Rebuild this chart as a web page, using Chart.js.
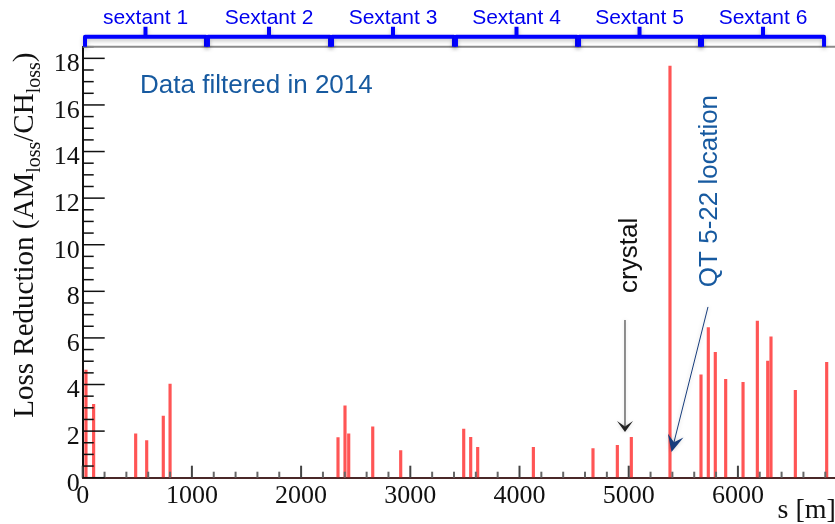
<!DOCTYPE html>
<html>
<head>
<meta charset="utf-8">
<script src="https://cdn.jsdelivr.net/npm/chart.js@4.4.1/dist/chart.umd.min.js"></script>
<style>
  html, body { margin: 0; padding: 0; background: #fff; overflow: hidden; }
  #wrap { width: 835px; height: 524px; overflow: hidden; }
  canvas { display: block; }
</style>
</head>
<body>
<div id="wrap"><canvas id="lossChart" width="842" height="524"></canvas></div>
<script>
// s [m] of every peak and its loss reduction
const positions = [30, 100, 485, 586, 738, 800, 2338, 2402, 2436, 2656, 2912, 3489, 3553, 3617, 4127,
                   4673, 4896, 5024, 5378, 5662, 5729, 5793, 5888, 6047, 6178, 6273, 6303, 6526, 6813];
const reduction = [4.62, 3.15, 1.88, 1.59, 2.65, 4.02, 1.72, 3.09, 1.88, 2.18, 1.16, 2.09, 1.73, 1.30, 1.30,
                   1.25, 1.39, 1.73, 17.67, 4.42, 6.44, 5.38, 4.22, 4.09, 6.72, 5.01, 6.05, 3.75, 4.95];

const xTicks = [0, 1000, 2000, 3000, 4000, 5000, 6000];
const yTicks = [0, 2, 4, 6, 8, 10, 12, 14, 16, 18];

const sextantEdges = [12, 1138, 2274, 3409, 4536, 5662, 6798];
const sextantNames = ["sextant 1", "Sextant 2", "Sextant 3", "Sextant 4", "Sextant 5", "Sextant 6"];

const xMax = 6912;
const yMax = 18.5;

// annotation anchors in data units (s, reduction)
const noteAt = [525, 16.5];
const crystalAt = [5076, 7.93];
const crystalArrow = [4966, 6.77, 4966, 1.96];
const qtAt = [5809, 8.18];
const qtArrow = [5726, 7.33, 5392, 1.1];

const SERIF = "'Liberation Serif', 'DejaVu Serif', serif";
const SANS = "'Liberation Sans', Arial, sans-serif";
const NOTE_BLUE = "#175aa0";

function drawArrow(ctx, x1, y1, x2, y2, color, len, half, notch) {
    const a = Math.atan2(y2 - y1, x2 - x1);
    const c = Math.cos(a), s = Math.sin(a);

    ctx.strokeStyle = color;
    ctx.lineWidth = 1;
    ctx.beginPath();
    ctx.moveTo(x1, y1);
    ctx.lineTo(x2 - c * len * notch, y2 - s * len * notch);
    ctx.stroke();

    const bx = x2 - c * len, by = y2 - s * len;
    ctx.fillStyle = color;
    ctx.beginPath();
    ctx.moveTo(x2, y2);
    ctx.lineTo(bx + s * half, by - c * half);
    ctx.lineTo(x2 - c * len * notch, y2 - s * len * notch);
    ctx.lineTo(bx - s * half, by + c * half);
    ctx.closePath();
    ctx.fill();
}

const decorations = {
    id: "decorations",

    afterDatasetsDraw(chart) {
        const ctx = chart.ctx;
        const xs = chart.scales.x, ys = chart.scales.y;
        const area = chart.chartArea;

        ctx.save();

        // x ticks, pointing into the frame
        for (let v = 0; v <= xMax; v += 200) {
            const px = xs.getPixelForValue(v);
            const major = v % 1000 === 0;
            ctx.strokeStyle = major ? "#444" : "#666";
            ctx.lineWidth = 2;
            ctx.beginPath();
            ctx.moveTo(px, area.bottom);
            ctx.lineTo(px, area.bottom - (major ? 12 : 6));
            ctx.stroke();
        }

        // y ticks
        for (let v = 0; v <= yMax; v += 0.5) {
            const py = ys.getPixelForValue(v);
            const major = v % 2 === 0;
            ctx.strokeStyle = "#111";
            ctx.lineWidth = 1.5;
            ctx.beginPath();
            ctx.moveTo(area.left, py);
            ctx.lineTo(area.left + (major ? 22 : 11), py);
            ctx.stroke();
        }

        ctx.restore();
    },

    afterDraw(chart) {
        const ctx = chart.ctx;
        const xs = chart.scales.x, ys = chart.scales.y;
        const area = chart.chartArea;

        ctx.save();

        // top frame
        ctx.strokeStyle = "#8a8a8a";
        ctx.lineWidth = 2;
        ctx.beginPath();
        ctx.moveTo(area.left, area.top);
        ctx.lineTo(area.right, area.top);
        ctx.stroke();

        // sextant brackets
        const barY = area.top - 10;
        ctx.save();
        ctx.strokeStyle = "#0000ff";
        ctx.lineWidth = 4;
        ctx.lineJoin = "round";
        ctx.shadowColor = "rgba(0,0,0,0.25)";
        ctx.shadowBlur = 4;
        ctx.shadowOffsetY = 2;
        for (let i = 0; i < sextantNames.length; i++) {
            const a = xs.getPixelForValue(sextantEdges[i]) + 1;
            const b = xs.getPixelForValue(sextantEdges[i + 1]) - 1;
            const mid = (a + b) / 2;
            ctx.beginPath();
            ctx.moveTo(a, area.top);
            ctx.lineTo(a, barY);
            ctx.lineTo(b, barY);
            ctx.lineTo(b, area.top);
            ctx.moveTo(mid, barY);
            ctx.lineTo(mid, barY - 10);
            ctx.stroke();
        }
        ctx.restore();

        ctx.fillStyle = "#0000ee";
        ctx.font = "21px " + SANS;
        ctx.textAlign = "center";
        ctx.textBaseline = "alphabetic";
        for (let i = 0; i < sextantNames.length; i++) {
            const mid = (xs.getPixelForValue(sextantEdges[i]) + xs.getPixelForValue(sextantEdges[i + 1])) / 2;
            ctx.fillText(sextantNames[i], mid, area.top - 23);
        }

        // note
        ctx.textAlign = "left";
        ctx.fillStyle = NOTE_BLUE;
        ctx.font = "26px " + SANS;
        ctx.fillText("Data filtered in 2014", xs.getPixelForValue(noteAt[0]), ys.getPixelForValue(noteAt[1]));

        // rotated labels
        ctx.save();
        ctx.translate(xs.getPixelForValue(crystalAt[0]), ys.getPixelForValue(crystalAt[1]));
        ctx.rotate(-Math.PI / 2);
        ctx.fillStyle = "#111";
        ctx.fillText("crystal", 0, 0);
        ctx.restore();

        ctx.save();
        ctx.translate(xs.getPixelForValue(qtAt[0]), ys.getPixelForValue(qtAt[1]));
        ctx.rotate(-Math.PI / 2);
        ctx.fillStyle = NOTE_BLUE;
        ctx.fillText("QT 5-22 location", 0, 0);
        ctx.restore();

        // arrows
        ctx.save();
        ctx.shadowColor = "rgba(0,0,0,0.2)";
        ctx.shadowBlur = 4;
        drawArrow(ctx,
            xs.getPixelForValue(crystalArrow[0]), ys.getPixelForValue(crystalArrow[1]),
            xs.getPixelForValue(crystalArrow[2]), ys.getPixelForValue(crystalArrow[3]),
            "#222", 11, 8, 0.5);
        drawArrow(ctx,
            xs.getPixelForValue(qtArrow[0]), ys.getPixelForValue(qtArrow[1]),
            xs.getPixelForValue(qtArrow[2]), ys.getPixelForValue(qtArrow[3]),
            "#163c7c", 17, 8, 0.6);
        ctx.restore();

        // y axis title with subscripts
        const parts = [
            { t: "Loss Reduction (AM", sub: false },
            { t: "loss", sub: true },
            { t: "/CH", sub: false },
            { t: "loss", sub: true },
            { t: ")", sub: false }
        ];
        ctx.save();
        ctx.translate(area.left - 50, area.bottom - 60);
        ctx.rotate(-Math.PI / 2);
        ctx.fillStyle = "#111";
        let pos = 0;
        parts.forEach(p => {
            ctx.font = (p.sub ? "20px " : "29px ") + SERIF;
            ctx.fillText(p.t, pos, p.sub ? 7 : 0);
            pos += ctx.measureText(p.t).width;
        });
        ctx.restore();

        // x axis title
        ctx.fillStyle = "#111";
        ctx.font = "28px " + SERIF;
        ctx.fillText("s [m]", area.right - 60, area.bottom + 40);

        ctx.restore();
    }
};

new Chart(document.getElementById("lossChart"), {
    type: "bar",
    data: {
        datasets: [{
            label: "Loss reduction",
            data: positions.map((s, i) => ({ x: s, y: reduction[i] })),
            backgroundColor: "rgba(255,20,20,0.72)",
            borderWidth: 0,
            barThickness: 2.5
        }]
    },
    options: {
        responsive: false,
        animation: false,
        layout: {
            padding: { top: 46.7, right: 842 - 837.5, left: 0, bottom: 0 }
        },
        plugins: {
            legend: { display: false },
            tooltip: { enabled: false }
        },
        scales: {
            x: {
                type: "linear",
                min: 0,
                max: xMax,
                offset: false,
                afterFit(scale) { scale.height = 46.3; },
                afterBuildTicks(scale) { scale.ticks = xTicks.map(v => ({ value: v })); },
                grid: { drawOnChartArea: false, drawTicks: false, offset: false },
                border: { display: true, color: "#4a2828", width: 2 },
                ticks: {
                    autoSkip: false,
                    maxRotation: 0,
                    padding: 3,
                    color: "#111",
                    font: { family: SERIF, size: 26 },
                    callback: v => String(v)
                }
            },
            y: {
                min: 0,
                max: yMax,
                afterFit(scale) { scale.width = 82.7; },
                afterBuildTicks(scale) { scale.ticks = yTicks.map(v => ({ value: v })); },
                grid: { drawOnChartArea: false, drawTicks: false },
                border: { display: true, color: "#111", width: 2 },
                ticks: {
                    padding: 3,
                    labelOffset: 6,
                    color: "#111",
                    font: { family: SERIF, size: 26 },
                    callback: v => String(v)
                }
            }
        }
    },
    plugins: [decorations]
});
</script>
</body>
</html>
